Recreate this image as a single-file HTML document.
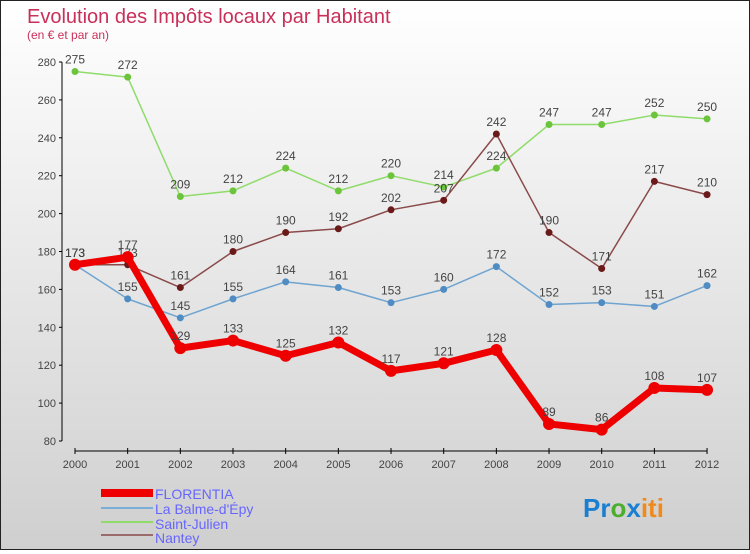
<!DOCTYPE html>
<html><head><meta charset="utf-8"><style>
html,body{margin:0;padding:0}
body{width:750px;height:550px;overflow:hidden;font-family:"Liberation Sans",sans-serif}
#wrap{position:relative;width:748px;height:548px;border:1px solid #222;background:linear-gradient(#fff,#cfcfcf)}
svg text{font-family:"Liberation Sans",sans-serif}
</style></head><body>
<div id="wrap">
<svg id="c" width="748" height="548">
<text x="26" y="22" font-size="20" fill="#c8305a">Evolution des Impôts locaux par Habitant</text>
<text x="26" y="38" font-size="12" fill="#c8305a">(en € et par an)</text>
<g id="axes"></g><g id="series"></g>
<g>
<rect x="100" y="488" width="52" height="8" fill="#e00"/>
<text x="154" y="498" font-size="14" fill="#66f">FLORENTIA</text>
<rect x="100" y="506" width="52" height="2" fill="#7aaed6"/>
<text x="154" y="513" font-size="14" fill="#66f">La Balme-d'Épy</text>
<rect x="100" y="520" width="52" height="2" fill="#8fdc6a"/>
<text x="154" y="528" font-size="14" fill="#66f">Saint-Julien</text>
<rect x="100" y="533" width="52" height="2" fill="#9b6b6b"/>
<text x="154" y="542" font-size="14" fill="#66f">Nantey</text>
</g>
<text x="582" y="516" font-size="26" font-weight="bold"><tspan fill="#1a7fd0">Pr</tspan><tspan fill="#4cae2e">o</tspan><tspan fill="#1a7fd0">x</tspan><tspan fill="#f08a1a">iti</tspan></text>
</svg>
</div>
<script>
const years=["2000","2001","2002","2003","2004","2005","2006","2007","2008","2009","2010","2011","2012"];
const yTicks=[80,100,120,140,160,180,200,220,240,260,280];
const florentia=[173,177,129,133,125,132,117,121,128,89,86,108,107];
const balme=[173,155,145,155,164,161,153,160,172,152,153,151,162];
const saintJulien=[275,272,209,212,224,212,220,214,224,247,247,252,250];
const nantey=[173,173,161,180,190,192,202,207,242,190,171,217,210];
const NS="http://www.w3.org/2000/svg";
function xs(i){return 74+i*52.67;}
function ys(v){return 440-(v-80)*1.895;}
function mk(t,a,p){const e=document.createElementNS(NS,t);for(const k in a)e.setAttribute(k,a[k]);p.appendChild(e);return e;}
const ax=document.getElementById('axes');
let l=mk('line',{x1:61,y1:ys(280),x2:61,y2:ys(80),stroke:'#000'},ax);


yTicks.forEach(v=>{mk('line',{x1:58,x2:61,y1:ys(v),y2:ys(v),stroke:'#000'},ax);
 const t=mk('text',{x:55,y:ys(v)+4,'font-size':11,fill:'#444','text-anchor':'end'},ax);t.textContent=v;
 
 });
l=mk('line',{x1:xs(0),y1:450,x2:xs(12),y2:450,stroke:'#000'},ax);


years.forEach((y,i)=>{mk('line',{x1:xs(i),x2:xs(i),y1:447,y2:453,stroke:'#000'},ax);
 const t=mk('text',{x:xs(i),y:467,'font-size':11,fill:'#444','text-anchor':'middle'},ax);t.textContent=y;
 
 });
const sg=document.getElementById('series');
function draw(data,name,color,dot,w,r){
 const g=mk('g',{},sg);
 
 
 const p=mk('polyline',{points:data.map((v,i)=>xs(i)+','+ys(v)).join(' '),fill:'none',stroke:color,'stroke-width':w,'stroke-linejoin':'round'},g);
 
 
 data.forEach((v,i)=>{const c=mk('circle',{cx:xs(i),cy:ys(v),r:r,fill:dot},g);
  
  
  const t=mk('text',{x:xs(i),y:ys(v)-8,'font-size':12,fill:'#444','text-anchor':'middle'},g);t.textContent=v;
  
  });
}
draw(saintJulien,'saint-julien','#8fdc6a','#6cc43c',1.5,3.5);
draw(nantey,'nantey','#8b4a4a','#6b1a1a',1.5,3.5);
draw(balme,'balme','#6fa4d0','#4f8cc4',1.5,3.5);
draw(florentia,'florentia','#ee0000','#ee0000',7,6);
</script>
</body></html>
